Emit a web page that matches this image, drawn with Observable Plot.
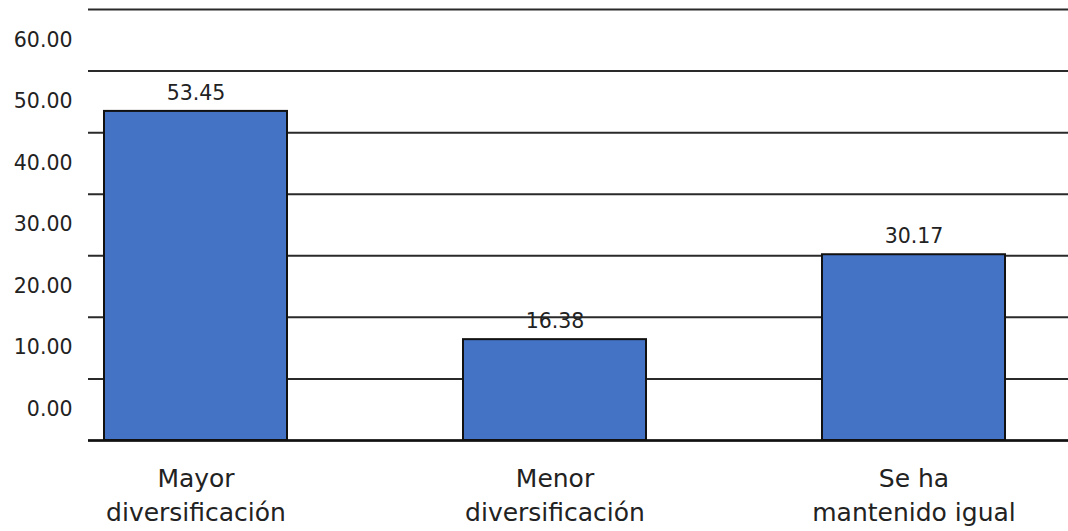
<!DOCTYPE html>
<html>
<head>
<meta charset="utf-8">
<script src="https://cdn.jsdelivr.net/npm/d3@7"></script>
<script src="https://cdn.jsdelivr.net/npm/@observablehq/plot@0.6"></script>
<style>
  html, body { margin: 0; padding: 0; background: #fff; }
  #chart svg { display: block; }
</style>
</head>
<body>
<div id="chart"></div>
<script>
// Categories (line breaks mark how each label wraps under its bar)
const categories = ["Mayor\ndiversificación", "Menor\ndiversificación", "Se ha\nmantenido igual"];
// Percentage of respondents per category
const values = [53.45, 16.38, 30.17];
// Y-axis tick values and grid lines
const yTicks = [0, 10, 20, 30, 40, 50, 60];
const gridLines = [0, 10, 20, 30, 40, 50, 60, 70];

const data = categories.map((c, i) => ({category: c, value: values[i]}));

const chart = Plot.plot({
  width: 1068,
  height: 531,
  marginTop: 9,
  marginBottom: 91,
  marginLeft: 88,
  marginRight: 0,
  style: {fontFamily: "'DejaVu Sans', sans-serif", color: "#222", background: "#fff"},
  x: {domain: categories, paddingInner: 0.49, paddingOuter: 0, insetLeft: 16, insetRight: 62},
  y: {domain: [0, 70]},
  marks: [
    Plot.gridY(gridLines, {stroke: "#2a2a2a", strokeOpacity: 1, strokeWidth: 2}),
    Plot.axisY(yTicks, {
      tickSize: 0, tickPadding: 16, dy: -31, fontSize: 20.5,
      tickFormat: d => d.toFixed(2), label: null
    }),
    Plot.axisX({
      tickSize: 0, tickPadding: 22, fontSize: 25, lineHeight: 1.37, label: null
    }),
    Plot.barY(data, {
      x: "category", y: "value",
      fill: "#4472C4", stroke: "#111", strokeWidth: 2
    }),
    Plot.ruleY([0], {stroke: "#111", strokeWidth: 2.5}),
    Plot.text(data, {
      x: "category", y: "value",
      text: d => d.value.toFixed(2),
      dy: -18, fontSize: 20.5, fill: "#222"
    })
  ]
});

document.getElementById("chart").appendChild(chart);
</script>
</body>
</html>
